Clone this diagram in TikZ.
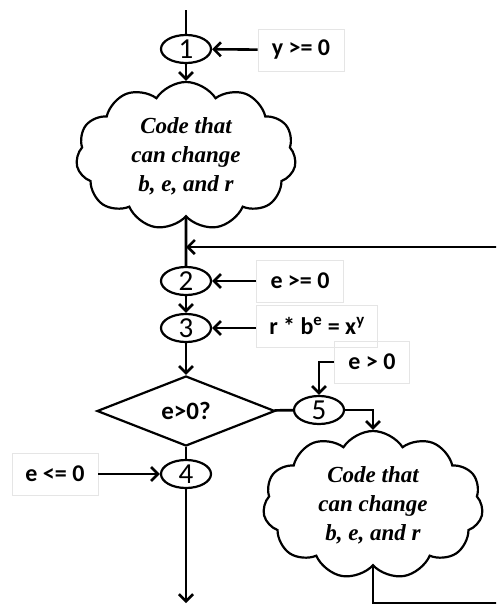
\documentclass[tikz,border=0pt]{standalone}
\usepackage{fontspec}
\setsansfont{Carlito}[BoldFont={Carlito Bold}]
\newfontfamily\cloudfont{Liberation Serif}
\usetikzlibrary{shapes.geometric,shapes.symbols,arrows.meta}
\begin{document}
\begin{tikzpicture}[x=1pt,y=-1pt,
    num/.style={ellipse,draw,line width=2.2pt,minimum width=50pt,minimum height=28pt,inner sep=0pt,font=\sffamily\fontsize{29}{29}\selectfont},
    tag/.style={draw=black!10,line width=0.6pt,inner sep=0pt,minimum height=42pt,font=\sffamily\bfseries\fontsize{24}{24}\selectfont},
    blob/.style={cloud,cloud puffs=11,cloud puff arc=115,aspect=1.5,draw,line width=2.2pt,minimum width=220pt,minimum height=148pt,inner sep=0pt,align=center,font=\cloudfont\bfseries\itshape\fontsize{23}{29}\selectfont},
    arr/.style={line width=2.6pt,-{Straight Barb[length=7pt,width=14pt]}},
    ln/.style={line width=2.6pt}]
    \clip (0,0) rectangle (496,605);
    \coordinate (top) at (186,10);
    \draw (186,49)  node[num] (n1) {1};
    \draw (186,281) node[num] (n2) {2};
    \draw (186,328) node[num] (n3) {3};
    \draw (186,474) node[num] (n4) {4};
    \draw (319,410) node[num] (n5) {5};
    \draw (186,156) node[blob] (c1) {Code that\\can change\\b, e, and r};
    \draw (373,505) node[blob] (c2) {Code that\\can change\\b, e, and r};
    \draw (186,411) node[diamond,draw,line width=2.2pt,minimum width=178pt,minimum height=70pt,aspect=2.54,inner sep=0pt,font=\sffamily\bfseries\fontsize{25}{25}\selectfont] (q) {e>0?};
    \draw (301,50)  node[tag,minimum width=86pt] (t1) {y >= 0};
    \draw (300,281) node[tag,minimum width=87pt] (t2) {e >= 0};
    \draw (317,326) node[tag,minimum width=121pt] (t3) {r * b\textsuperscript{e} = x\textsuperscript{y}};
    \draw (372,362) node[tag,minimum width=75pt] (t5) {e > 0};
    \draw (55,474)  node[tag,minimum width=86pt] (t4) {e <= 0};
    \coordinate (bot) at (500,603);
    \coordinate (loop) at (500,247);
    \coordinate (out) at (186,603);
    \draw[ln] (top) -- (n1);
    \draw[arr] (n1) -- (c1.north);
    \draw[ln] (c1.south) -- (n2);
    \draw[arr] (n2) -- (n3);
    \draw[arr] (n3) -- (q);
    \draw[ln] (q) -- (n4);
    \draw[ln] (q) -- (n5);
    \draw[arr] (n4) -- (out);
    \draw[arr] (t1) -- (n1);
    \draw[arr] (t2) -- (n2);
    \draw[arr] (t3.west |- n3) -- (n3);
    \draw[arr] (t4) -- (n4);
    \draw[arr] (t5.west) -| (n5);
    \draw[arr] (n5) -| (c2.north);
    \draw[arr] (c2.south) |- (bot) -- (loop) -- (n2.north |- loop);
\end{tikzpicture}
\end{document}
